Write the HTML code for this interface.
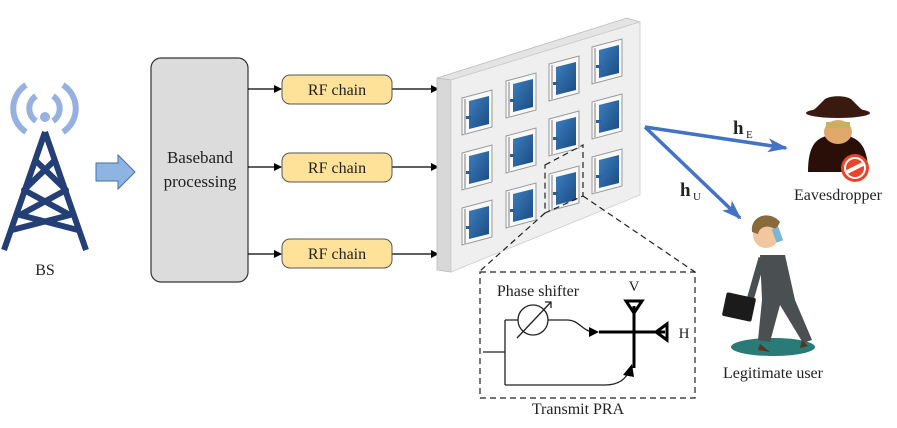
<!DOCTYPE html><html><head><style>body{margin:0;background:#fff}svg{display:block}text{font-family:"Liberation Serif",serif;fill:#222}</style></head><body>
<svg width="897" height="428" viewBox="0 0 897 428" xmlns="http://www.w3.org/2000/svg" xmlns:xlink="http://www.w3.org/1999/xlink">
<defs>
<marker id="ak" markerWidth="8" markerHeight="8" refX="7" refY="4" orient="auto" markerUnits="userSpaceOnUse"><path d="M0,0 L8,4 L0,8z" fill="#000"/></marker>
<marker id="ab" markerWidth="20" markerHeight="14" refX="18" refY="7" orient="auto" markerUnits="userSpaceOnUse"><path d="M0,0 L20,7 L0,14 L5,7z" fill="#4472c4"/></marker>
<linearGradient id="bl" x1="0" y1="0" x2="1" y2="1"><stop offset="0" stop-color="#3d7fc0"/><stop offset="1" stop-color="#1a4a80"/></linearGradient>
<g id="tile">
<path d="M0,0 l30,-8 l0,37 l-30,8z" fill="#f8f8f8" stroke="#999" stroke-width="1"/>
<path d="M2,1 l2,0 l0,35 l-2,1z" fill="#bbb"/>
<path d="M7,3 l20,-5 l0,28 l-20,5z" fill="url(#bl)"/>
<rect x="4" y="18" width="5" height="3" fill="#2a5f9a"/>
</g>
</defs>
<g fill="none" stroke="#96b1e0" stroke-width="6">
<path d="M26,85 A28,28 0 0 0 26,132"/><path d="M63,85 A28,28 0 0 1 63,132"/>
<path d="M36,96 A15,15 0 0 0 36,121"/><path d="M53,96 A15,15 0 0 1 53,121"/>
</g>
<circle cx="45" cy="117" r="5" fill="#96b1e0"/>
<g stroke="#243f75" stroke-width="6" fill="none" stroke-linejoin="round">
<path d="M45,132 L4,250 M45,132 L86,250"/>
<path d="M35,160 L66,190 L20,215 L78,230 M55,160 L24,190 L70,215 L12,230"/>
</g>
<text x="45" y="275" font-size="16" text-anchor="middle">BS</text>
<path d="M96,163 L118,163 L118,155 L135,172 L118,189 L118,181 L96,181z" fill="#8db4e2" stroke="#4a6f9a" stroke-width="1"/>
<rect x="151" y="58" width="97" height="224" rx="10" fill="#dcdcdc" stroke="#333" stroke-width="1.2"/>
<text x="200" y="163" font-size="17" text-anchor="middle">Baseband</text>
<text x="200" y="187" font-size="17" text-anchor="middle">processing</text>
<g stroke="#000" stroke-width="1.2" marker-end="url(#ak)">
<line x1="248" y1="89" x2="281" y2="89"/><line x1="248" y1="167" x2="281" y2="167"/><line x1="248" y1="254" x2="281" y2="254"/>
<line x1="392" y1="89" x2="438" y2="89"/><line x1="392" y1="167" x2="438" y2="167"/><line x1="392" y1="254" x2="438" y2="254"/>
</g>
<g fill="#ffe299" stroke="#555" stroke-width="1">
<rect x="282" y="75" width="110" height="29" rx="8"/><rect x="282" y="153" width="110" height="29" rx="8"/><rect x="282" y="239" width="110" height="29" rx="8"/>
</g>
<g font-size="16" text-anchor="middle"><text x="337" y="95">RF chain</text><text x="337" y="173">RF chain</text><text x="337" y="259">RF chain</text></g>
<path d="M437,78 L627,18 L640,22 L451,80z" fill="#e4e4e4" stroke="#bbb" stroke-width="0.8"/>
<path d="M437,78 L451,80 L451,272 L437,270z" fill="#d8d8d8" stroke="#bbb" stroke-width="0.8"/>
<path d="M451,80 L640,22 L640,195 L451,272z" fill="#efefef" stroke="#ccc" stroke-width="0.8"/>
<use xlink:href="#tile" href="#tile" x="462" y="98"/>
<use xlink:href="#tile" href="#tile" x="462" y="153"/>
<use xlink:href="#tile" href="#tile" x="462" y="208"/>
<use xlink:href="#tile" href="#tile" x="506" y="81"/>
<use xlink:href="#tile" href="#tile" x="506" y="136"/>
<use xlink:href="#tile" href="#tile" x="506" y="191"/>
<use xlink:href="#tile" href="#tile" x="549" y="64"/>
<use xlink:href="#tile" href="#tile" x="549" y="119"/>
<use xlink:href="#tile" href="#tile" x="549" y="174"/>
<use xlink:href="#tile" href="#tile" x="592" y="47"/>
<use xlink:href="#tile" href="#tile" x="592" y="102"/>
<use xlink:href="#tile" href="#tile" x="592" y="157"/>
<g fill="none" stroke="#222" stroke-width="1.2" stroke-dasharray="6,4">
<path d="M545,165 L583,145 L583,196 L545,213z"/>
<line x1="545" y1="213" x2="480" y2="271"/><line x1="583" y1="196" x2="695" y2="272"/>
<rect x="480" y="272" width="215" height="126"/>
</g>
<text x="538" y="296" font-size="16" text-anchor="middle">Phase shifter</text>
<text x="634" y="291" font-size="15" text-anchor="middle">V</text>
<text x="684" y="338" font-size="15" text-anchor="middle">H</text>
<text x="578" y="414" font-size="16" text-anchor="middle">Transmit PRA</text>
<g fill="none" stroke="#222" stroke-width="1.3">
<path d="M483,352 L505,352 M505,320 L505,385 M505,320 L518,320"/>
<circle cx="533" cy="320" r="15"/>
<path d="M517,338 L551,302"/><path d="M545,302 L551,302 L551,308"/>
<path d="M548,320 L567,320 C580,320 582,332 595,332"/>
<path d="M505,385 L605,385 C620,385 626,378 630,370"/>
</g>
<path d="M589,327 L599,332 L589,337z M623,375 L632,364 L634,377z" fill="#000"/>
<g stroke="#000" stroke-width="3" fill="none">
<path d="M599,332 L665,332 M634,306 L634,368"/>
<path d="M626,301 L642,301 L634,313z"/><path d="M667,324 L667,340 L656,332z"/>
</g>
<g stroke="#4472c4" stroke-width="3.5" marker-end="url(#ab)">
<line x1="645" y1="127" x2="786" y2="148"/><line x1="645" y1="127" x2="740" y2="218"/>
</g>
<text x="733" y="134" font-size="19" font-weight="bold">h</text><text x="746" y="138" font-size="11">E</text>
<text x="680" y="196" font-size="19" font-weight="bold">h</text><text x="693" y="200" font-size="11">U</text>
<path d="M808,172 C808,140 820,135 838,135 C858,135 868,145 868,172z" fill="#2a0f08"/>
<ellipse cx="838" cy="132" rx="14" ry="12" fill="#e0a86a"/>
<path d="M808,114 L868,114 L860,108 L852,100 C848,95 828,95 824,100 L816,108z" fill="#3a1a10"/>
<ellipse cx="838" cy="113" rx="32" ry="5" fill="#3a1a10"/>
<rect x="826" y="122" width="24" height="6" fill="#c9b060"/>
<circle cx="855" cy="168" r="14" fill="#e8452a"/><circle cx="855" cy="168" r="10" fill="none" stroke="#fff" stroke-width="2"/><line x1="847" y1="172" x2="863" y2="164" stroke="#fff" stroke-width="4"/>
<text x="838" y="200" font-size="16" text-anchor="middle">Eavesdropper</text>
<ellipse cx="773" cy="347" rx="42" ry="9" fill="#2a7a78"/>
<path d="M760,255 L785,255 L795,300 L812,340 L803,343 L780,305 L770,342 L758,340 L762,300z" fill="#4a4f52"/>
<path d="M762,258 L750,300 L742,302" stroke="#4a4f52" stroke-width="7" fill="none"/>
<rect x="724" y="295" width="30" height="24" rx="2" fill="#1b1b1b" transform="rotate(12 739 307)"/>
<circle cx="766" cy="235" r="13" fill="#f1c7a0"/>
<path d="M752,232 C750,215 770,210 780,222 L776,230 C770,225 760,225 758,234z" fill="#8a6a3a"/>
<rect x="774" y="228" width="7" height="14" fill="#7ab6d8" transform="rotate(-20 777 235)"/>
<path d="M770,352 L758,350 L760,344z M808,346 L800,348 L802,340z" fill="#5a3420"/>
<text x="773" y="378" font-size="16" text-anchor="middle">Legitimate user</text>
</svg>
</body></html>
